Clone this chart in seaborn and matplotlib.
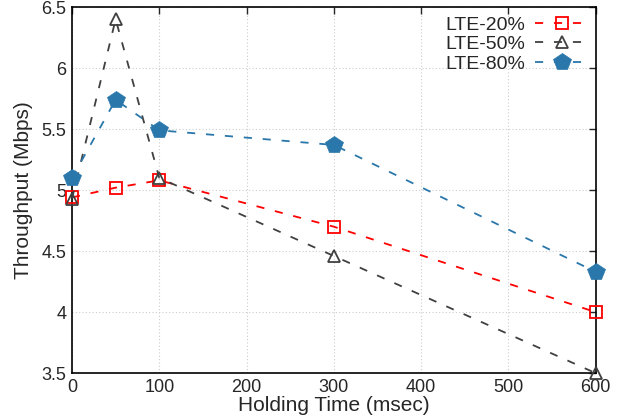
import matplotlib
matplotlib.use("Agg")
import matplotlib.pyplot as plt
import seaborn as sns
import pandas as pd

holding_time = [0, 50, 100, 300, 600]
lte20 = [4.94, 5.02, 5.08, 4.70, 4.00]
lte50 = [4.93, 6.40, 5.10, 4.46, 3.50]
lte80 = [5.10, 5.74, 5.49, 5.37, 4.33]
labels = ["LTE-20%", "LTE-50%", "LTE-80%"]

sns.set_style("white")
plt.rcParams['font.family'] = ['Liberation Sans', 'DejaVu Sans']

fig = plt.figure(figsize=(6.18, 4.16), dpi=100)
ax = fig.add_axes([0.1165, 0.103, 0.8475, 0.880])

styles = [
    dict(color="#ff0000", marker="s", markersize=8, markerfacecolor="none",
         markeredgecolor="#ff0000", markeredgewidth=1.3),
    dict(color="#404040", marker="^", markersize=8, markerfacecolor="none",
         markeredgecolor="#404040", markeredgewidth=1.3),
    dict(color="#2a77ab", marker="p", markersize=13, markerfacecolor="#2a77ab",
         markeredgecolor="#2a77ab", markeredgewidth=0.5),
]
for vals, lab, st in zip([lte20, lte50, lte80], labels, styles):
    df = pd.DataFrame({"x": holding_time, "y": vals})
    sns.lineplot(data=df, x="x", y="y", ax=ax, label=lab, linestyle=(0, (4.5, 6)),
                 linewidth=1.3, clip_on=False, zorder=3, **st)

ax.set_xlim(0, 600)
ax.set_ylim(3.5, 6.5)
ax.set_xticks([0, 100, 200, 300, 400, 500, 600])
ax.set_yticks([3.5, 4, 4.5, 5, 5.5, 6, 6.5])
ax.set_yticklabels(["3.5", "4", "4.5", "5", "5.5", "6", "6.5"])
ax.grid(True, linestyle=(0, (1, 2)), color="#cccccc", linewidth=0.8)
ax.tick_params(direction="in", top=True, right=True, length=5, width=1,
               labelsize=13, pad=4)
for s in ax.spines.values():
    s.set_color("black")
    s.set_linewidth(1.2)
ax.set_xlabel("Holding Time (msec)", fontsize=15, labelpad=0)
ax.set_ylabel("Throughput (Mbps)", fontsize=15, labelpad=6)

leg = ax.legend(loc="upper right", frameon=False, markerfirst=False, fontsize=14,
                handlelength=2.8, handletextpad=0.5, labelspacing=0.1,
                borderaxespad=0.0, bbox_to_anchor=(1.003, 0.997))

fig.savefig("out.png", dpi=100)
